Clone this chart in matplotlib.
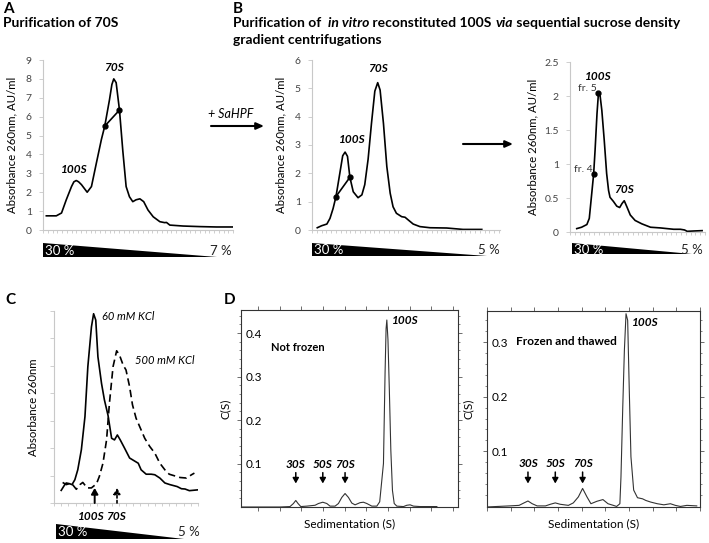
import numpy as np
import matplotlib.pyplot as plt
from matplotlib.patches import Polygon

plt.rcParams['font.family'] = ['Lato', 'DejaVu Sans']

W, H = 709, 543

# ---- data (x in fraction units / S) ----
a_x = [0.7, 2.8, 3.9, 4.9, 6.0, 6.5, 7.0, 7.5, 8.1, 9.3, 10.2, 11.2, 12.3, 13.0, 14.0, 14.5,
       14.9, 15.4, 16.1, 16.8, 17.5, 18.2, 18.9, 19.6, 20.4, 21.2, 22.1, 23.2, 24.6, 25.6,
       26.0, 26.7, 29.5, 33.0, 36.5, 39.9]
a_y = [0.75, 0.75, 0.9, 1.6, 2.3, 2.55, 2.62, 2.55, 2.4, 2.0, 2.3, 3.5, 4.8, 5.5, 6.9, 7.7,
       8.0, 7.8, 6.35, 4.2, 2.3, 1.76, 1.5, 1.6, 1.65, 1.5, 1.06, 0.7, 0.44, 0.39,
       0.4, 0.26, 0.21, 0.18, 0.16, 0.16]
a_dots_x = [13.0, 16.1]
a_dots_y = [5.5, 6.35]

b1_x = [1.1, 2.0, 3.1, 3.75, 4.4, 5.0, 5.8, 6.4, 6.9, 7.4, 7.9, 8.6, 9.6, 10.4, 11.0, 11.7,
        12.4, 13.1, 13.7, 14.2, 14.9, 15.6, 16.3, 16.9, 17.6, 18.7, 19.4, 20.1, 21.1, 22.5,
        24.6, 28.1, 31.5, 35.4]
b1_y = [0.08, 0.15, 0.21, 0.41, 0.76, 1.18, 2.0, 2.62, 2.75, 2.6, 1.86, 1.35, 1.14, 1.24,
        1.6, 2.5, 3.76, 4.9, 5.2, 4.94, 3.76, 2.24, 1.3, 0.82, 0.59, 0.47, 0.45, 0.35, 0.21,
        0.12, 0.08, 0.07, 0.02, 0.02]
b1_dots_x = [5.0, 7.9]
b1_dots_y = [1.18, 1.86]

b2_x = [1.4, 2.4, 3.5, 4.0, 4.5, 4.9, 5.2, 5.6, 5.9, 6.25, 6.6, 7.1, 7.6, 8.0, 8.3, 9.0,
        9.7, 10.3, 10.8, 11.25, 11.8, 12.5, 13.5, 14.9, 16.7, 18.75, 20.1, 21.5, 22.9,
        23.75, 24.3, 25.7, 27.4]
b2_y = [0.05, 0.07, 0.11, 0.2, 0.56, 0.85, 1.2, 1.74, 2.04, 2.0, 1.79, 1.35, 0.86, 0.61,
        0.51, 0.45, 0.38, 0.36, 0.42, 0.46, 0.37, 0.25, 0.17, 0.12, 0.07, 0.06, 0.05, 0.04,
        0.04, 0.03, 0.01, 0.015, 0.02]
b2_dots_x = [4.9, 5.9]
b2_dots_y = [0.85, 2.04]

c_x60 = [1.0, 1.5, 1.7, 2.2, 2.5, 2.9, 3.3, 3.8, 4.3, 4.7, 5.2, 5.5, 5.8, 6.1, 6.6, 7.0,
         7.5, 8.0, 8.4, 8.8, 9.2, 9.8, 10.5, 11.7, 12.1, 12.8, 13.5, 14.0, 14.7, 15.4,
         16.1, 17.1, 17.7, 18.2, 18.8, 20.0]
c_y60 = [0.46, 0.67, 0.73, 0.70, 0.67, 0.85, 1.21, 1.94, 3.15, 4.97, 6.42, 6.9, 6.67,
         5.33, 4.36, 3.76, 3.2, 2.36, 2.3, 2.48, 2.3, 2.0, 1.64, 1.45, 1.21, 1.05, 1.05,
         1.03, 0.91, 0.73, 0.67, 0.6, 0.52, 0.51, 0.45, 0.48]
c_x500 = [1.2, 1.7, 2.4, 3.1, 3.6, 4.0, 4.6, 5.2, 5.9, 6.3, 6.8, 7.3, 7.7, 8.2, 8.7, 9.1,
          9.6, 10.0, 10.5, 10.9, 11.4, 12.6, 13.3, 14.0, 14.7, 15.4, 16.0, 17.5, 18.4,
          19.1, 19.5]
c_y500 = [0.75, 0.67, 0.73, 0.5, 0.67, 0.75, 0.55, 0.55, 0.7, 0.97, 1.45, 2.3, 3.64, 4.97,
          5.55, 5.39, 5.03, 4.85, 4.24, 3.58, 3.09, 2.36, 2.06, 1.82, 1.45, 1.21, 1.05,
          0.93, 0.91, 1.03, 1.09]

d1_s = [-13.5, 17.7, 25.7, 28.4, 30.3, 32.1, 34.3, 39.1, 45.7, 48.4, 51.9, 55.1, 57.7,
        61.7, 64.4, 67.1, 69.7, 72.4, 75.1, 77.7, 81.7, 84.4, 87.1, 91.1, 95.1, 97.4,
        100.4, 101.7, 102.5, 103.1, 104.0, 105.1, 106.3, 107.6, 109.0, 111.1, 116.4,
        119.1, 121.7, 124.4, 129.7, 143.1]
d1_c = [0.0, 0.0, 0.001, 0.008, 0.015, 0.008, 0.001, 0.002, 0.004, 0.008, 0.011, 0.008,
        0.002, 0.002, 0.008, 0.022, 0.031, 0.022, 0.009, 0.005, 0.010, 0.011, 0.008, 0.002,
        0.002, 0.012, 0.10, 0.31, 0.41, 0.43, 0.385, 0.27, 0.13, 0.038, 0.008, 0.002, 0.001,
        0.004, 0.005, 0.002, 0.001, 0.001]

d2_s = [-0.6, 16.3, 23.5, 27.1, 30.0, 33.1, 36.7, 42.8, 46.4, 50.0, 53.6, 59.6, 63.2,
        66.9, 70.0, 73.2, 76.1, 80.5, 84.9, 88.6, 92.5, 94.9, 97.3, 98.1, 99.4, 100.6,
        101.8, 103.0, 104.2, 105.4, 107.4, 110.2, 113.9, 116.3, 119.9, 124.7, 129.5, 134.3,
        137.9, 141.6, 146.4, 153.6]
d2_c = [-0.002, 0.0, 0.001, 0.0055, 0.009, 0.004, 0.0, 0.0, 0.003, 0.0055, 0.003, 0.001,
        0.0055, 0.0165, 0.032, 0.0165, 0.004, 0.0085, 0.0116, 0.004, 0.001, -0.001, 0.004,
        0.053, 0.18, 0.285, 0.352, 0.34, 0.21, 0.09, 0.029, 0.015, 0.013, 0.010, 0.007,
        0.004, 0.002, 0.004, 0.001, -0.001, 0.001, 0.0]

arrow_s1 = [30.3, 51.9, 69.7]
arrow_s2 = [30.0, 50.0, 70.0]
arrow_labels = ['30S', '50S', '70S']

fig = plt.figure(figsize=(W / 100, H / 100), dpi=100)


def ax_px(x0, y0, x1, y1):
    return fig.add_axes([x0 / W, 1 - y1 / H, (x1 - x0) / W, (y1 - y0) / H])


def excel_style(ax, nx, yticks, ylabels=True):
    for s in ['top', 'right']:
        ax.spines[s].set_visible(False)
    for s in ['left', 'bottom']:
        ax.spines[s].set_color('#c8c8c8')
        ax.spines[s].set_linewidth(0.8)
    ax.set_xticks(np.arange(0, nx + 1, 1))
    ax.set_xticklabels([])
    ax.set_yticks(yticks)
    if not ylabels:
        ax.set_yticklabels([])
    ax.tick_params(axis='x', length=2, width=0.6, color='#c8c8c8')
    ax.tick_params(axis='y', length=3, width=0.6, color='#c8c8c8', labelsize=7.5,
                   labelcolor='#444444', pad=5)
    ax.patch.set_visible(False)


def grad_bar(x0, x1, y0, y1, right_label, label_right):
    ov.add_patch(Polygon([[x0, y0], [x0, y1], [x1, y1]], closed=True, color='black', lw=0))
    ov.text(x0 + 2, (y0 + y1) / 2 + 1, '30 %', color='white', fontsize=9.5, va='center')
    ov.text(label_right, (y0 + y1) / 2 + 1, right_label, color='#222222', fontsize=9.5,
            va='center', ha='right')


def arrow(ax, xy, xytext, hw=0.2, hl=0.35, lw=1.2, ls='-'):
    ax.annotate('', xy=xy, xytext=xytext,
                arrowprops=dict(arrowstyle=f'-|>,head_width={hw},head_length={hl}',
                                color='black', lw=lw, ls=ls, shrinkA=0, shrinkB=0))


bi = dict(fontweight='bold', fontstyle='italic', fontsize=8.5)
ylab = dict(fontsize=8.2)

# ---- A ----
axA = ax_px(43, 60, 233, 230)
axA.plot(a_x, a_y, color='black', lw=1.2)
axA.plot(a_dots_x, a_dots_y, color='black', lw=1.2, marker='o', ms=3.5)
axA.set_xlim(0, 40)
axA.set_ylim(0, 9)
excel_style(axA, 40, range(0, 10))
axA.set_ylabel('Absorbance 260nm, AU/ml', labelpad=6, **ylab)
axA.text(14.9, 8.3, '70S', ha='center', va='bottom', **bi)
axA.text(6.5, 2.9, '100S', ha='center', va='bottom', **bi)

# ---- B left ----
axB1 = ax_px(312, 60, 500, 230)
axB1.plot(b1_x, b1_y, color='black', lw=1.2)
axB1.plot(b1_dots_x, b1_dots_y, color='black', lw=1.2, marker='o', ms=3.5)
axB1.set_xlim(0, 39.2)
axB1.set_ylim(0, 6)
excel_style(axB1, 39, range(0, 7))
axB1.set_ylabel('Absorbance 260nm, AU/ml', labelpad=6, **ylab)
axB1.text(13.7, 5.5, '70S', ha='center', va='bottom', **bi)
axB1.text(8.4, 3.0, '100S', ha='center', va='bottom', **bi)

# ---- B right ----
axB2 = ax_px(570, 62, 705, 232)
axB2.plot(b2_x, b2_y, color='black', lw=1.2)
axB2.plot(b2_dots_x, b2_dots_y, 'o', color='black', ms=3.5)
axB2.set_xlim(0, 28)
axB2.set_ylim(0, 2.5)
excel_style(axB2, 28, [0, 0.5, 1, 1.5, 2, 2.5])
axB2.set_yticklabels(['0', '0.5', '1', '1.5', '2', '2.5'])
axB2.set_ylabel('Absorbance 260nm, AU/ml', labelpad=4, **ylab)
axB2.text(5.9, 2.2, '100S', ha='center', va='bottom', **bi)
axB2.text(11.3, 0.55, '70S', ha='center', va='bottom', **bi)
axB2.text(5.6, 2.04, 'fr. 5', ha='right', va='bottom', fontsize=7.5, color='#333333')
axB2.text(4.6, 0.85, 'fr. 4', ha='right', va='bottom', fontsize=7.5, color='#333333')

# ---- C ----
axC = ax_px(54, 311, 198, 503)
axC.plot(c_x60, c_y60, color='black', lw=1.2)
axC.plot(c_x500, c_y500, color='black', lw=1.2, ls=(0, (4.5, 2.5)))
axC.set_xlim(0, 20)
axC.set_ylim(0, 7)
excel_style(axC, 20, range(0, 8), ylabels=False)
axC.set_ylabel('Absorbance 260nm', labelpad=3, **ylab)
axC.text(6.6, 6.8, '60 mM KCl', fontstyle='italic', fontsize=8, va='center')
axC.text(11.3, 5.2, '500 mM KCl', fontstyle='italic', fontsize=8, va='center')
arrow(axC, (5.65, 0.55), (5.65, 0.0), lw=1.4)
arrow(axC, (8.75, 0.55), (8.75, 0.0), lw=1.2, ls=(0, (1.5, 1.5)))
axC.text(5.2, -0.3, '100S', ha='center', va='top', clip_on=False, **bi)
axC.text(8.6, -0.3, '70S', ha='center', va='top', clip_on=False, **bi)


# ---- D ----
def sedfit_style(ax, ylim, xlim, ylabel_x):
    ax.set_xlim(*xlim)
    ax.set_ylim(*ylim)
    for s in ax.spines.values():
        s.set_linewidth(0.8)
        s.set_color('#333333')
    ax.set_xticks(np.arange(0, 160, 17.33))
    ax.set_xticklabels([])
    ax.set_yticks([0.1, 0.2, 0.3, 0.4][:int(ylim[1] * 10)])
    ax.set_yticks(np.arange(0.02, ylim[1], 0.02), minor=True)
    ax.tick_params(which='both', direction='out', top=True, right=True, color='#555555')
    ax.tick_params(which='major', length=3, width=0.6, labelsize=8.5, pad=-6)
    ax.tick_params(which='minor', length=1.5, width=0.5)
    for lab in ax.get_yticklabels():
        lab.set_horizontalalignment('left')
    ax.set_xlabel('Sedimentation (S)', fontsize=8.5, labelpad=5)
    ax.set_ylabel('C(S)', fontsize=8.5)
    ax.yaxis.set_label_coords(ylabel_x, 0.5)


axD1 = ax_px(241, 310, 458, 507)
axD1.plot(d1_s, d1_c, color='#333333', lw=0.8)
sedfit_style(axD1, (0, 0.453), (-13.5, 160), -0.045)
axD1.text(10.5, 0.367, 'Not frozen', fontweight='bold', fontsize=8, va='center')
axD1.text(107, 0.43, '100S', ha='left', va='center', **bi)
for s, lab in zip(arrow_s1, arrow_labels):
    arrow(axD1, (s, 0.054), (s, 0.079), hw=0.18, hl=0.32, lw=1.1)
    axD1.text(s, 0.084, lab, ha='center', va='bottom', **bi)

axD2 = ax_px(487, 311, 700, 507)
axD2.plot(d2_s, d2_c, color='#333333', lw=0.8)
sedfit_style(axD2, (-0.002, 0.357), (0, 153.6), -0.06)
axD2.text(21.5, 0.302, 'Frozen and thawed', fontweight='bold', fontsize=8.5, va='center')
axD2.text(106, 0.336, '100S', ha='left', va='center', **bi)
for s, lab in zip(arrow_s2, arrow_labels):
    arrow(axD2, (s, 0.041), (s, 0.062), hw=0.18, hl=0.32, lw=1.1)
    axD2.text(s, 0.067, lab, ha='center', va='bottom', **bi)

# ---- overlay in pixel coordinates for headings, arrows and gradient bars ----
ov = fig.add_axes([0, 0, 1, 1], zorder=-1)
ov.set_xlim(0, W)
ov.set_ylim(H, 0)
ov.axis('off')

grad_bar(43, 217, 243, 257, '7 %', 232)
grad_bar(312, 487, 243, 256, '5 %', 500)
grad_bar(572, 692, 243, 254, '5 %', 703)
grad_bar(56, 184, 524, 539, '5 %', 200)

hd = dict(fontweight='bold', fontsize=10, va='center')
ov.text(3, 9, 'A', fontweight='bold', fontsize=11, va='center')
ov.text(3, 23, 'Purification of 70S', **hd)
ov.text(233, 9, 'B', fontweight='bold', fontsize=11, va='center')
ov.text(5, 300, 'C', fontweight='bold', fontsize=11, va='center')
ov.text(224, 300, 'D', fontweight='bold', fontsize=11, va='center')

renderer = fig.canvas.get_renderer()
x = 233
for piece, style in [('Purification of  ', 'normal'), ('in vitro', 'italic'),
                     (' reconstituted 100S ', 'normal'), ('via', 'italic'),
                     (' sequential sucrose density', 'normal')]:
    t = ov.text(x, 23, piece, fontstyle=style, **hd)
    bb = t.get_window_extent(renderer)
    x += bb.width
ov.text(233, 40, 'gradient centrifugations', **hd)

arrow(ov, (264, 126), (211, 126), hl=0.45, lw=1.5)
ov.text(208, 114, '+ SaHPF', fontstyle='italic', fontsize=9, va='center')
arrow(ov, (513, 144), (463, 144), hl=0.45, lw=1.5)

fig.savefig('out.png', dpi=100)
